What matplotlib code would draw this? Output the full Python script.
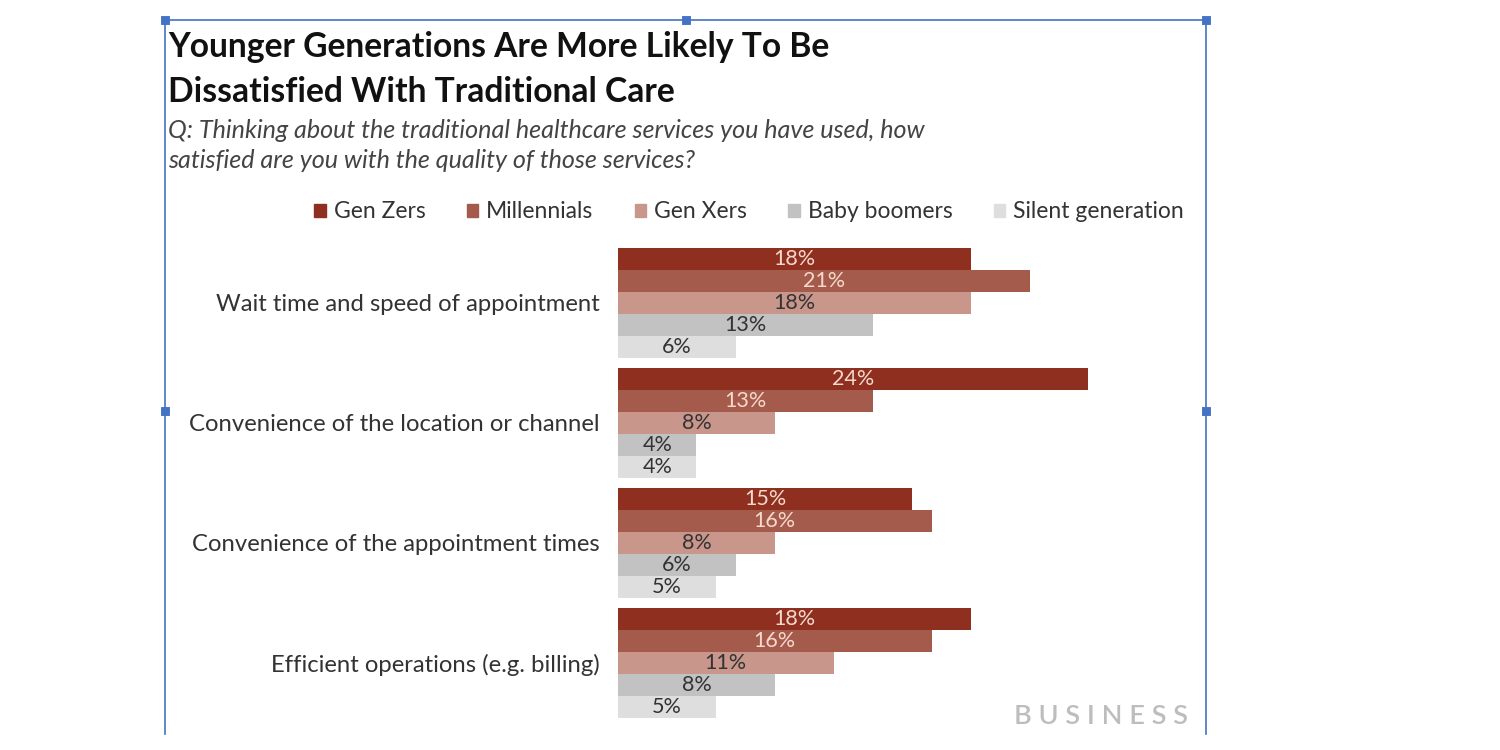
import matplotlib
matplotlib.use("Agg")
import matplotlib.pyplot as plt
from matplotlib.patches import Rectangle
from matplotlib.lines import Line2D

categories = [
    "Wait time and speed of appointment",
    "Convenience of the location or channel",
    "Convenience of the appointment times",
    "Efficient operations (e.g. billing)",
]
series_names = ["Gen Zers", "Millennials", "Gen Xers", "Baby boomers", "Silent generation"]
gen_zers = [18, 24, 15, 18]
millennials = [21, 13, 16, 16]
gen_xers = [18, 8, 8, 11]
baby_boomers = [13, 4, 6, 8]
silent_generation = [6, 4, 5, 5]
series_values = [gen_zers, millennials, gen_xers, baby_boomers, silent_generation]

colors = ["#8E2F1F", "#A55B4B", "#C9968C", "#C2C2C2", "#DEDEDE"]
label_colors = ["#F6D9CC", "#F6D9CC", "#333333", "#333333", "#333333"]

FONT = ["Lato", "DejaVu Sans"]
plt.rcParams["font.family"] = FONT

W, H = 1500, 750
fig = plt.figure(figsize=(15, 7.5), dpi=100)
fig.patch.set_facecolor("white")

def fx(px):
    return px / W

def fy(py):
    return 1 - py / H

# axes: x=0 at px 618, 19.6 px per percent
ax_left, ax_right = 618, 1166
ax_top, ax_bot = 240, 730
ax = fig.add_axes([fx(ax_left), fy(ax_bot), (ax_right - ax_left) / W, (ax_bot - ax_top) / H])
xmax = (ax_right - ax_left) / 19.6
ax.set_xlim(0, xmax)
unit = 120.0
g0 = 302.5
ax.set_ylim((ax_bot - g0) / unit, (ax_top - g0) / unit)

bh = 22.0 / unit
for j, (vals, c, lc) in enumerate(zip(series_values, colors, label_colors)):
    ys = [i + (j - 2) * bh for i in range(len(categories))]
    bars = ax.barh(ys, vals, height=bh, color=c, edgecolor="none")
    for b, v in zip(bars, vals):
        ax.text(b.get_width() / 2, b.get_y() + b.get_height() / 2 + 0.005, f"{v}%",
                ha="center", va="center", fontsize=15.5, color=lc)

ax.set_yticks(range(len(categories)))
ax.set_yticklabels(categories, fontsize=17.2, color="#333333")
ax.tick_params(axis="y", length=0, pad=13)
ax.set_xticks([])
for s in ax.spines.values():
    s.set_visible(False)

# Title and subtitle
fig.text(fx(168), fy(47), "Younger Generations Are More Likely To Be", fontsize=24.2,
         fontweight="bold", color="#111111", va="center", ha="left")
fig.text(fx(168), fy(92), "Dissatisfied With Traditional Care", fontsize=24.2,
         fontweight="bold", color="#111111", va="center", ha="left")
fig.text(fx(168), fy(131), "Q: Thinking about the traditional healthcare services you have used, how",
         fontsize=18.1, style="italic", color="#444444", va="center", ha="left")
fig.text(fx(168), fy(161), "satisfied are you with the quality of those services?",
         fontsize=18.1, style="italic", color="#444444", va="center", ha="left")

# Legend
handles = [Rectangle((0, 0), 1, 1, color=c) for c in colors]
leg = fig.legend(handles, series_names, loc="center right", bbox_to_anchor=(fx(1184), fy(212)),
                 ncol=5, frameon=False, fontsize=16.5, handlelength=0.5, handleheight=0.5,
                 handletextpad=0.35, columnspacing=1.8, borderaxespad=0, borderpad=0)
for t in leg.get_texts():
    t.set_color("#333333")

# watermark
fig.text(fx(1188), fy(717), "B U S I N E S S", fontsize=19.5, color="#BDBDBD",
         ha="right", va="center", fontweight="semibold")

# selection frame
blue = "#4472C4"
fig.add_artist(Line2D([fx(165), fx(1206)], [fy(20), fy(20)], color=blue, lw=1.2))
fig.add_artist(Line2D([fx(165), fx(165)], [fy(20), fy(734)], color=blue, lw=1.2))
fig.add_artist(Line2D([fx(1206), fx(1206)], [fy(20), fy(734)], color=blue, lw=1.2))
hs = 10
for (hx, hy) in [(165, 20), (686, 20), (1206, 20), (165, 411), (1206, 411)]:
    fig.add_artist(Rectangle((fx(hx - hs / 2), fy(hy + hs / 2)), hs / W, hs / H,
                             facecolor=blue, edgecolor="white", lw=0.8,
                             transform=fig.transFigure))

fig.savefig("out.png", dpi=100, facecolor="white")
